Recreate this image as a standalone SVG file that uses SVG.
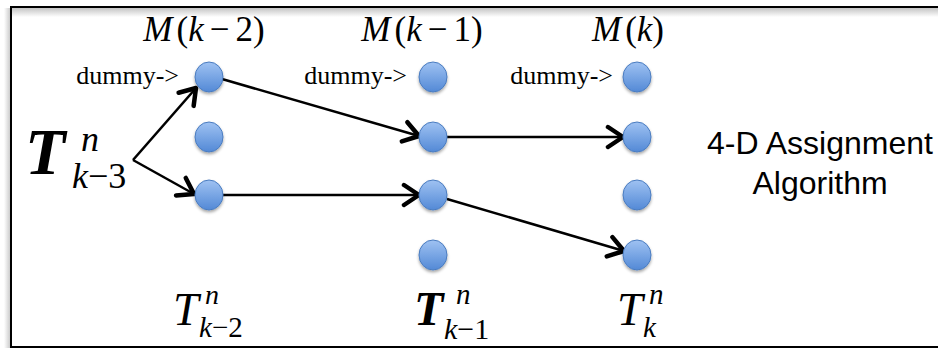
<svg xmlns="http://www.w3.org/2000/svg" width="938" height="349" viewBox="0 0 938 349">
<style>
  .serif { font-family: "Liberation Serif", "Times New Roman", serif; fill: #000; }
  .it { font-style: italic; }
  .m { font-size: 35px; }
  .dummy { font-size: 26px; }
  .sans { font-family: "Liberation Sans", Arial, sans-serif; font-size: 32px; fill: #000; }
  .node { fill: url(#nodeGrad); stroke: #4a7cc0; stroke-width: 1; filter: url(#shadow); }
  .edge { stroke: #000; stroke-width: 2.5; fill: none; marker-end: url(#arrow); }
</style>
<defs>
  <linearGradient id="nodeGrad" x1="0" y1="0" x2="0" y2="1">
    <stop offset="0" stop-color="#9fc2f2"/>
    <stop offset="1" stop-color="#5389d6"/>
  </linearGradient>
  <linearGradient id="topShade" x1="0" y1="0" x2="0" y2="1">
    <stop offset="0" stop-color="#c4c4c4"/>
    <stop offset="1" stop-color="#ffffff"/>
  </linearGradient>
  <linearGradient id="leftShade" x1="1" y1="0" x2="0" y2="0">
    <stop offset="0" stop-color="#c4c4c4"/>
    <stop offset="1" stop-color="#ffffff"/>
  </linearGradient>
  <filter id="shadow" x="-50%" y="-50%" width="200%" height="200%">
    <feDropShadow dx="0" dy="2" stdDeviation="1.5" flood-color="#000" flood-opacity="0.35"/>
  </filter>
  <marker id="arrow" viewBox="0 0 22 26" refX="18" refY="13" markerWidth="22" markerHeight="26" markerUnits="userSpaceOnUse" orient="auto">
    <path d="M3,3 L18,13 L3,23" fill="none" stroke="#000" stroke-width="4.5" stroke-linecap="round" stroke-linejoin="round"/>
  </marker>
</defs>
<rect width="938" height="349" fill="#fff"/>
<g id="frame">
  <rect x="12" y="8" width="926" height="9" fill="url(#topShade)"/>
  <rect x="4" y="8" width="7" height="340" fill="url(#leftShade)"/>
  <rect x="11" y="7" width="940" height="340" fill="none" stroke="#000" stroke-width="2"/>
</g>
<g id="labels-top">
  <text class="serif m" x="204" y="41" text-anchor="middle"><tspan class="it">M</tspan><tspan dx="4">(</tspan><tspan class="it">k</tspan><tspan dx="6">−</tspan><tspan dx="6">2)</tspan></text>
  <text class="serif m" x="422" y="41" text-anchor="middle"><tspan class="it">M</tspan><tspan dx="4">(</tspan><tspan class="it">k</tspan><tspan dx="6">−</tspan><tspan dx="6">1)</tspan></text>
  <text class="serif m" x="628" y="41" text-anchor="middle"><tspan class="it">M</tspan><tspan dx="4">(</tspan><tspan class="it">k</tspan><tspan>)</tspan></text>
  <text class="serif dummy" x="179" y="84" text-anchor="end">dummy-&gt;</text>
  <text class="serif dummy" x="407" y="84" text-anchor="end">dummy-&gt;</text>
  <text class="serif dummy" x="613" y="84" text-anchor="end">dummy-&gt;</text>
</g>
<g id="T-k-3">
  <text class="serif it" x="25" y="174" font-size="66" font-weight="bold">T</text>
  <text class="serif it" x="81" y="151" font-size="36">n</text>
  <text class="serif it" x="72" y="188" font-size="36">k<tspan font-style="normal">−3</tspan></text>
</g>
<g id="T-k-2">
  <text class="serif it" x="173" y="325" font-size="46">T</text>
  <text class="serif it" x="205" y="304" font-size="28">n</text>
  <text class="serif it" x="199" y="337" font-size="29">k<tspan font-style="normal">−2</tspan></text>
</g>
<g id="T-k-1">
  <text class="serif it" x="414" y="325" font-size="48" font-weight="bold">T</text>
  <text class="serif it" x="456" y="304" font-size="29">n</text>
  <text class="serif it" x="444" y="339" font-size="30">k<tspan font-style="normal">−1</tspan></text>
</g>
<g id="T-k">
  <text class="serif it" x="617" y="325" font-size="46">T</text>
  <text class="serif it" x="649" y="304" font-size="29">n</text>
  <text class="serif it" x="643" y="337" font-size="29">k</text>
</g>
<g id="title">
  <text class="sans" x="820" y="154" text-anchor="middle">4-D Assignment</text>
  <text class="sans" x="820" y="194" text-anchor="middle">Algorithm</text>
</g>
<g id="connectors">
  <line class="edge" x1="133" y1="160" x2="196" y2="88"/>
  <line class="edge" x1="133" y1="160" x2="194" y2="194"/>
  <line class="edge" x1="222" y1="79" x2="419" y2="136"/>
  <line class="edge" x1="447" y1="137" x2="623" y2="137"/>
  <line class="edge" x1="222" y1="195" x2="419" y2="195"/>
  <line class="edge" x1="447" y1="199" x2="624" y2="251"/>
</g>
<g id="n1-0"><ellipse class="node" cx="209" cy="77" rx="14" ry="15"/></g>
<g id="n1-1"><ellipse class="node" cx="209" cy="137" rx="14" ry="15"/></g>
<g id="n1-2"><ellipse class="node" cx="209" cy="195" rx="14" ry="15"/></g>
<g id="n2-0"><ellipse class="node" cx="433" cy="77" rx="14" ry="15"/></g>
<g id="n2-1"><ellipse class="node" cx="433" cy="137" rx="14" ry="15"/></g>
<g id="n2-2"><ellipse class="node" cx="433" cy="195" rx="14" ry="15"/></g>
<g id="n2-3"><ellipse class="node" cx="433" cy="255" rx="14" ry="15"/></g>
<g id="n3-0"><ellipse class="node" cx="637" cy="77" rx="14" ry="15"/></g>
<g id="n3-1"><ellipse class="node" cx="637" cy="137" rx="14" ry="15"/></g>
<g id="n3-2"><ellipse class="node" cx="637" cy="195" rx="14" ry="15"/></g>
<g id="n3-3"><ellipse class="node" cx="637" cy="255" rx="14" ry="15"/></g>
</svg>
